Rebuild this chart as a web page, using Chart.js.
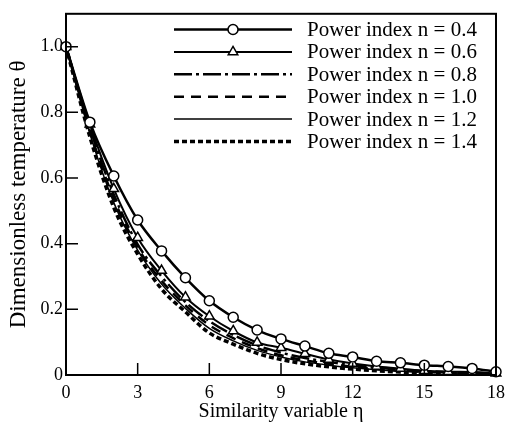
<!DOCTYPE html>
<html>
<head>
<meta charset="utf-8">
<script src="https://cdn.jsdelivr.net/npm/chart.js@4.4.0/dist/chart.umd.min.js"></script>
<style>
  html, body { margin: 0; padding: 0; background: #fff; }
</style>
</head>
<body>
<canvas id="chart" width="512" height="430"></canvas>
<script>
// similarity variable (x) and dimensionless temperature for each power index
const eta = [0, 1, 2, 3, 4, 5, 6, 7, 8, 9, 10, 11, 12, 13, 14, 15, 16, 17, 18];
const theta04 = [1, 0.770, 0.606, 0.472, 0.378, 0.296, 0.226, 0.176, 0.137, 0.110, 0.088, 0.066, 0.055, 0.042, 0.037, 0.030, 0.026, 0.020, 0.010];
const theta06 = [1, 0.764, 0.567, 0.418, 0.318, 0.237, 0.179, 0.134, 0.099, 0.083, 0.065, 0.047, 0.035, 0.026, 0.020, 0.013, 0.010, 0.009, 0.005];
const theta08 = [1, 0.752, 0.550, 0.398, 0.300, 0.222, 0.164, 0.122, 0.090, 0.068, 0.052, 0.040, 0.030, 0.022, 0.016, 0.012, 0.009, 0.007, 0.004];
const theta10 = [1, 0.743, 0.537, 0.388, 0.287, 0.212, 0.152, 0.112, 0.082, 0.060, 0.045, 0.034, 0.025, 0.018, 0.013, 0.010, 0.007, 0.005, 0.003];
const theta12 = [1, 0.735, 0.525, 0.380, 0.277, 0.203, 0.142, 0.104, 0.075, 0.055, 0.040, 0.030, 0.022, 0.016, 0.012, 0.008, 0.006, 0.004, 0.002];
const theta14 = [1, 0.725, 0.510, 0.368, 0.262, 0.192, 0.128, 0.094, 0.066, 0.047, 0.034, 0.025, 0.018, 0.013, 0.009, 0.006, 0.004, 0.003, 0.002];
const seriesNames = ['Power index n = 0.4', 'Power index n = 0.6', 'Power index n = 0.8',
                     'Power index n = 1.0', 'Power index n = 1.2', 'Power index n = 1.4'];
const xTicks = [0, 3, 6, 9, 12, 15, 18];
const yTicks = [0, 0.2, 0.4, 0.6, 0.8, 1.0];

Chart.defaults.font.family = '"Liberation Serif", "Times New Roman", serif';
Chart.defaults.color = '#000';

function pts(vals) {
    return eta.map((x, i) => ({x: x, y: vals[i]}));
}

function series(label, vals, style) {
    return {
        label: label,
        data: pts(vals),
        borderColor: '#000',
        backgroundColor: '#fff',
        pointBackgroundColor: '#fff',
        pointBorderColor: '#000',
        cubicInterpolationMode: 'monotone',
        clip: false,
        pointRadius: 0,
        ...style
    };
}

const datasets = [
    series(seriesNames[0], theta04, {borderWidth: 2.5, pointStyle: 'circle', pointRadius: 5, pointBorderWidth: 1.5}),
    series(seriesNames[1], theta06, {borderWidth: 2, pointStyle: 'triangle', pointRadius: 5.5, pointBorderWidth: 1.5}),
    series(seriesNames[2], theta08, {borderWidth: 2.5, borderDash: [18, 4, 3, 4]}),
    series(seriesNames[3], theta10, {borderWidth: 2.5, borderDash: [10, 7]}),
    series(seriesNames[4], theta12, {borderWidth: 1.5}),
    series(seriesNames[5], theta14, {borderWidth: 3.5, borderDash: [5, 3]})
];

// box round the plot and short inward tick marks
const frameTicks = {
    id: 'frameTicks',
    afterDatasetsDraw(chart) {
        const {ctx, chartArea: a, scales: {x, y}} = chart;
        ctx.save();
        ctx.strokeStyle = '#000';
        ctx.setLineDash([]);
        ctx.lineWidth = 1.5;
        ctx.beginPath();
        y.ticks.forEach(t => {
            const py = y.getPixelForValue(t.value);
            ctx.moveTo(a.left, py);
            ctx.lineTo(a.left + 12, py);
        });
        x.ticks.forEach(t => {
            const px = x.getPixelForValue(t.value);
            ctx.moveTo(px, a.bottom);
            ctx.lineTo(px, a.bottom - 12);
        });
        ctx.stroke();
        ctx.lineWidth = 2;
        ctx.strokeRect(a.left, a.top, a.right - a.left, a.bottom - a.top);
        ctx.restore();
    }
};

// legend drawn inside the plot, line sample with marker in the middle
const insideLegend = {
    id: 'insideLegend',
    afterDraw(chart, args, opts) {
        const ctx = chart.ctx;
        chart.data.datasets.forEach((ds, i) => {
            const y = opts.top + i * opts.rowGap;
            ctx.save();
            ctx.strokeStyle = '#000';
            ctx.lineWidth = ds.borderWidth;
            ctx.setLineDash(ds.borderDash || []);
            ctx.beginPath();
            ctx.moveTo(opts.x0, y);
            ctx.lineTo(opts.x1, y);
            ctx.stroke();
            if (ds.pointRadius > 0) {
                ctx.setLineDash([]);
                ctx.fillStyle = '#fff';
                ctx.lineWidth = ds.pointBorderWidth;
                Chart.helpers.drawPoint(ctx, {
                    pointStyle: ds.pointStyle,
                    radius: ds.pointRadius,
                    borderWidth: ds.pointBorderWidth
                }, (opts.x0 + opts.x1) / 2, y);
            }
            ctx.fillStyle = '#000';
            ctx.font = opts.font;
            ctx.textBaseline = 'middle';
            ctx.textAlign = 'left';
            ctx.fillText(ds.label, opts.textX, y + 1);
            ctx.restore();
        });
    }
};

const config = {
    type: 'line',
    data: {datasets: datasets},
    options: {
        responsive: false,
        animation: false,
        layout: {padding: {top: 5, right: 15, left: 0, bottom: 0}},
        plugins: {
            legend: {display: false},
            tooltip: {enabled: false},
            insideLegend: {
                x0: 174, x1: 292, textX: 307, top: 29.5, rowGap: 22.4,
                font: '21px "Liberation Serif", "Times New Roman", serif'
            }
        },
        scales: {
            x: {
                type: 'linear',
                min: 0,
                max: 18,
                afterBuildTicks: s => { s.ticks = xTicks.map(v => ({value: v})); },
                afterFit: s => { s.height = 55; },
                grid: {drawOnChartArea: false, drawTicks: false},
                border: {display: false},
                ticks: {padding: 7, font: {size: 18}, maxRotation: 0},
                title: {
                    display: true,
                    text: 'Similarity variable η',
                    font: {size: 20},
                    padding: {top: 0, bottom: 6}
                }
            },
            y: {
                min: 0,
                max: 1.1,
                afterBuildTicks: s => { s.ticks = yTicks.map(v => ({value: v})); },
                afterFit: s => { s.width = 66; },
                grid: {drawOnChartArea: false, drawTicks: false},
                border: {display: false},
                ticks: {
                    padding: 3,
                    font: {size: 18},
                    callback: v => v === 0 ? '0' : v.toFixed(1)
                },
                title: {
                    display: true,
                    text: 'Dimensionless temperature θ',
                    font: {size: 23},
                    padding: {top: 5, bottom: 0}
                }
            }
        }
    },
    plugins: [frameTicks, insideLegend]
};

const myChart = new Chart(document.getElementById('chart'), config);
</script>
</body>
</html>
